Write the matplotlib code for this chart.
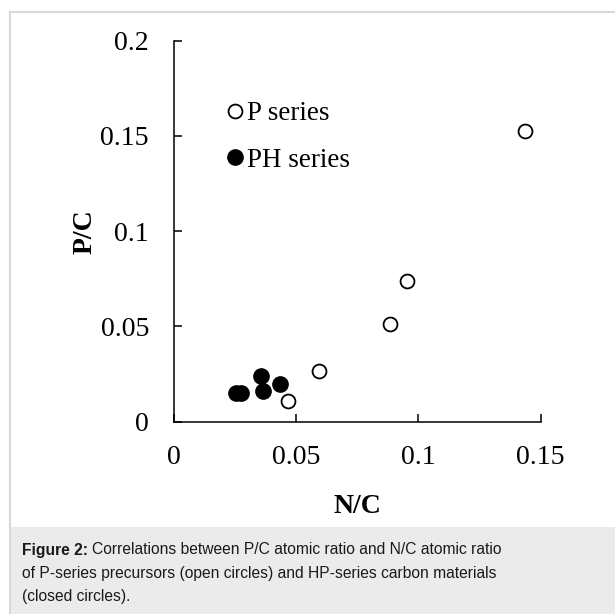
import numpy as np
import matplotlib
matplotlib.use('Agg')
from matplotlib import pyplot as plt
from matplotlib.patches import Rectangle
from matplotlib.lines import Line2D

# P series (open circles)
p_nc = [0.1434, 0.0954, 0.0884, 0.0594, 0.0465]
p_pc = [0.1525, 0.0739, 0.0511, 0.0268, 0.0109]

# PH series (closed circles)
ph_nc = [0.0253, 0.0273, 0.0355, 0.0366, 0.0432]
ph_pc = [0.0149, 0.0149, 0.0240, 0.0163, 0.0196]

xticks = [0, 0.05, 0.1, 0.15]
xtick_labels = ['0', '0.05', '0.1', '0.15']
yticks = [0, 0.05, 0.1, 0.15, 0.2]
ytick_labels = ['0', '0.05', '0.1', '0.15', '0.2']

serif = 'Liberation Serif'

fig = plt.figure(figsize=(6.15, 6.14), dpi=100)

# caption panel and page frame
fig.patches.append(Rectangle((10/615, 0), 1, (614-527)/614, transform=fig.transFigure,
                             facecolor='#ebebeb', edgecolor='none', zorder=0))
fig.lines.append(Line2D([10/615, 10/615], [0, 1-12/614], transform=fig.transFigure,
                        color='#d8d8d8', lw=1.5))
fig.lines.append(Line2D([10/615, 1], [1-12/614, 1-12/614], transform=fig.transFigure,
                        color='#d8d8d8', lw=1.5))

ax = fig.add_axes([174/615, 1-421.7/614, (540.7-174)/615, (421.7-40.7)/614])
ax.plot(p_nc, p_pc, 'o', ms=10, mfc='white', mec='black', mew=1.3,
        ls='none', label='P series', clip_on=False)
ax.plot(ph_nc, ph_pc, 'o', ms=11, mfc='black', mec='black', mew=1,
        ls='none', label='PH series', clip_on=False)

ax.set_xlim(0, 0.15)
ax.set_ylim(0, 0.2)
ax.set_xticks(xticks)
ax.set_xticklabels(xtick_labels, fontfamily=serif, fontsize=20)
ax.set_yticks(yticks)
ax.set_yticklabels(ytick_labels, fontfamily=serif, fontsize=20)
ax.tick_params(direction='in', length=6, width=1.1, color='black')
ax.tick_params(axis='y', pad=18)
ax.tick_params(axis='x', pad=17)
for s in ['top', 'right']:
    ax.spines[s].set_visible(False)
for s in ['left', 'bottom']:
    ax.spines[s].set_linewidth(1.1)

ax.set_xlabel('N/C', fontfamily=serif, fontsize=20, fontweight='bold', labelpad=17)
ax.set_ylabel('P/C', fontfamily=serif, fontsize=20, fontweight='bold', labelpad=2)

ax.legend(loc='upper left', bbox_to_anchor=(0.115, 0.87), frameon=False,
          prop={'family': serif, 'size': 19.5}, handlelength=0.6,
          handletextpad=0.15, labelspacing=0.8, borderaxespad=0)

# caption
y0 = 1-550/614
dy = 23.5/614
cap = dict(fontfamily='Liberation Sans', fontsize=11.25, va='center', ha='left', color='#1a1a1a')
t = fig.text(22/615, y0, 'Figure 2:', fontweight='bold', **cap)
fig.canvas.draw()
bb = t.get_window_extent()
fig.text(bb.x1/615 + 4/615, y0, 'Correlations between P/C atomic ratio and N/C atomic ratio', **cap)
fig.text(22/615, y0-dy, 'of P-series precursors (open circles) and HP-series carbon materials', **cap)
fig.text(22/615, y0-2*dy, '(closed circles).', **cap)

fig.savefig('out.png', dpi=100)
plt.close()
